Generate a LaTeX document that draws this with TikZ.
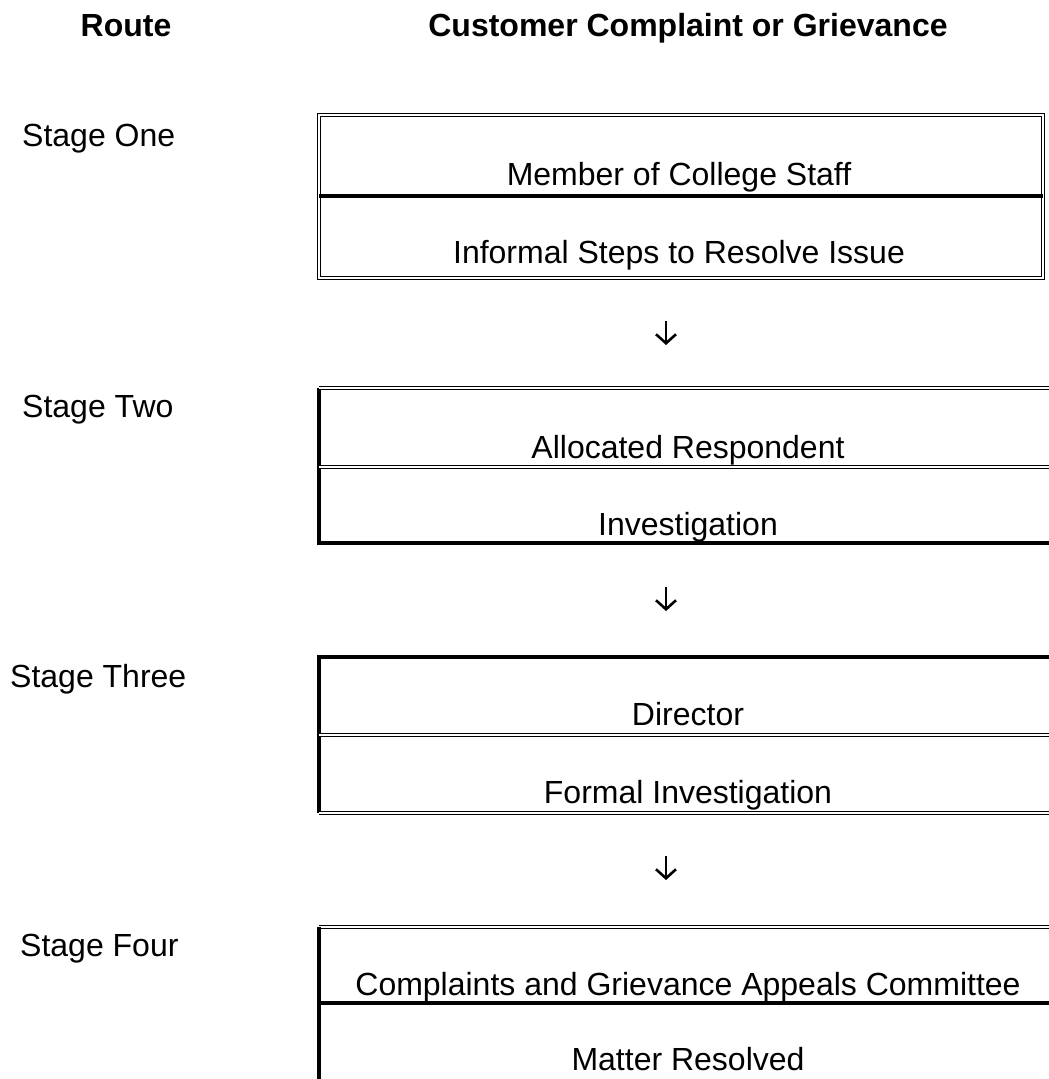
\documentclass[tikz,border=0pt]{standalone}
\usepackage{fontspec}
\setmainfont{Liberation Sans}
\usetikzlibrary{arrows.meta}

\begin{document}
\begin{tikzpicture}[x=1pt,y=-1pt,
  lbl/.style={anchor=base, inner sep=0pt, font=\fontsize{32}{38}\selectfont},
  hdr/.style={lbl, font=\fontsize{32}{38}\selectfont\bfseries},
  stagelbl/.style={lbl, anchor=base west},
  thickrule/.style={line width=3.2pt},
  dblrule/.style={double, line width=1.5pt, double distance=1.8pt},
  downarrow/.style={line width=2.6pt, -{Straight Barb[length=9pt,width=20pt]}}]
  \useasboundingbox (0,0) rectangle (1049,1079);
  \clip (0,0) rectangle (1049,1079);

  % headings
  \node[hdr] (route) at (126,36) {Route};
  \node[hdr] (title) at (688,36) {Customer Complaint or Grievance};

  % route column
  \node[stagelbl] (one)   at (22,146) {Stage One};
  \node[stagelbl] (two)   at (22,417) {Stage Two};
  \node[stagelbl] (three) at (10,687) {Stage Three};
  \node[stagelbl] (four)  at (20,956) {Stage Four};

  % stage one box
  \draw[dblrule] (319,115) rectangle (1043,278);
  \draw[thickrule] (319,196) -- (1043,196);
  \node[lbl] (staff)    at (679,185) {Member of College Staff};
  \node[lbl] (informal) at (679,263) {Informal Steps to Resolve Issue};

  % stage two box
  \draw[thickrule] (319,388) -- (319,543) -- (1062,543);
  \draw[dblrule] (319,388) -- (1062,388);
  \draw[dblrule] (319,467) -- (1062,467);
  \node[lbl] (respondent) at (688,458) {Allocated Respondent};
  \node[lbl] (invest)     at (688,535) {Investigation};

  % stage three box
  \draw[thickrule] (1062,657) -- (319,657) -- (319,813);
  \draw[dblrule] (319,735) -- (1062,735);
  \draw[dblrule] (319,813) -- (1062,813);
  \node[lbl] (director) at (688,725) {Director};
  \node[lbl] (formal)   at (688,803) {Formal Investigation};

  % stage four box
  \draw[dblrule] (319,927) -- (1062,927);
  \draw[thickrule] (319,927) -- (319,1090);
  \draw[thickrule] (319,1003) -- (1062,1003);
  \node[lbl] (committee) at (688,995) {Complaints and Grievance Appeals Committee};
  \node[lbl] (resolved)  at (688,1070) {Matter Resolved};

  % arrows between stages
  \coordinate (a1) at (666,321); \coordinate (b1) at (666,345);
  \coordinate (a2) at (666,587); \coordinate (b2) at (666,611);
  \coordinate (a3) at (666,856); \coordinate (b3) at (666,880);
  \draw[downarrow] (a1) -- (b1);
  \draw[downarrow] (a2) -- (b2);
  \draw[downarrow] (a3) -- (b3);
\end{tikzpicture}
\end{document}
